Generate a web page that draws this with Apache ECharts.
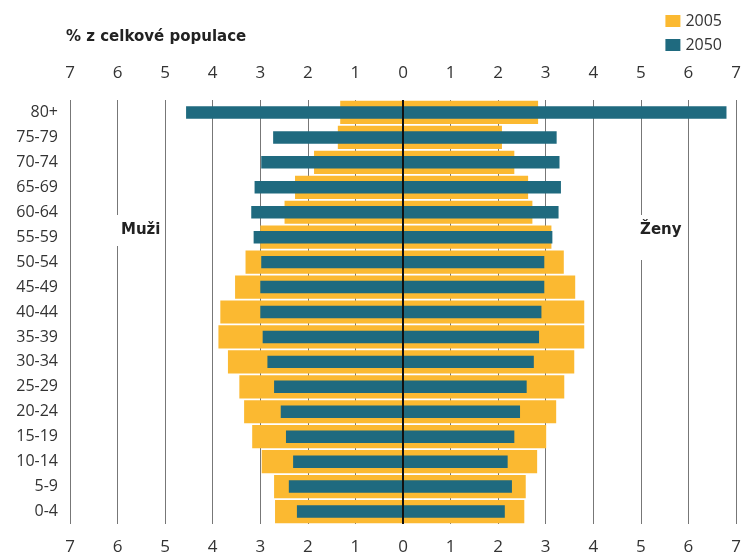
<!DOCTYPE html>
<html><head><meta charset="utf-8">
<script src="https://cdn.jsdelivr.net/npm/echarts@6/dist/echarts.min.js"></script>
<style>html,body{margin:0;padding:0;background:#fff}#c{width:744px;height:559px}</style>
</head><body><div id="c"></div>
<script>
const categories = ['80+','75-79','70-74','65-69','60-64','55-59','50-54','45-49','40-44','35-39','30-34','25-29','20-24','15-19','10-14','5-9','0-4'];
const men2005   = [1.32,1.37,1.87,2.27,2.49,3.00,3.31,3.53,3.84,3.88,3.68,3.44,3.34,3.17,2.97,2.71,2.69];
const women2005 = [2.84,2.08,2.34,2.63,2.72,3.12,3.38,3.62,3.81,3.81,3.60,3.39,3.22,3.01,2.82,2.58,2.55];
const men2050   = [4.56,2.73,2.98,3.12,3.19,3.14,2.98,3.00,3.00,2.95,2.85,2.71,2.57,2.46,2.31,2.40,2.23];
const women2050 = [6.80,3.23,3.29,3.32,3.27,3.14,2.97,2.97,2.91,2.86,2.75,2.60,2.46,2.34,2.20,2.29,2.14];
const tickLabels = [-7,-6,-5,-4,-3,-2,-1,0,1,2,3,4,5,6,7];

const YEL = '#FBB931', TEAL = '#1F6A7F';
const FONT = 'Open Sans';
const chart = echarts.init(document.getElementById('c'));
const xBase = {
  type: 'value', min: tickLabels[0], max: tickLabels[tickLabels.length-1], interval: 1,
  axisLine: {show:false}, axisTick: {show:false},
  axisLabel: {formatter: v => String(Math.abs(v)), fontSize: 17, color: '#333', fontFamily: FONT}
};
chart.setOption({
  animation: false,
  grid: {left: 70, right: 8, top: 100, bottom: 35},
  title: {text: '% z celkové populace', left: 61, top: 25,
    textStyle: {fontSize: 15, fontWeight: 'bold', color: '#222', fontFamily: 'DejaVu Sans'}},
  legend: {data: ['2005','2050'], orient: 'vertical', right: 17, top: 7, icon: 'rect',
    itemWidth: 15, itemHeight: 12, itemGap: 6,
    textStyle: {fontSize: 16, lineHeight: 18, color: '#333', fontFamily: FONT}},
  xAxis: [
    Object.assign({}, xBase, {position: 'top', axisLabel: Object.assign({}, xBase.axisLabel, {margin: 18}),
      splitLine: {show: true, lineStyle: {color: '#777', width: 1}}}),
    Object.assign({}, xBase, {position: 'bottom', axisLabel: Object.assign({}, xBase.axisLabel, {margin: 15}),
      splitLine: {show: false}})
  ],
  yAxis: [
    {type: 'category', data: categories, inverse: true,
     axisLine: {show:false}, axisTick: {show:false},
     axisLabel: {fontSize: 16, color: '#333', margin: 12, fontFamily: FONT}},
    {type: 'category', data: categories, inverse: true, show: false}
  ],
  graphic: [
    {type: 'text', left: 117, top: 215, z: 5, style: {text: 'Muži', fontSize: 15, fontWeight: 'bold', fill: '#222',
      fontFamily: 'DejaVu Sans', backgroundColor: '#fff', padding: [8, 4]}},
    {type: 'text', left: 634, top: 215, z: 5, style: {text: 'Ženy', fontSize: 15, fontWeight: 'bold', fill: '#222',
      fontFamily: 'DejaVu Sans', backgroundColor: '#fff', padding: [8, 6, 22, 6]}}
  ],
  series: [
    {name: '2005', type: 'bar', stack: 'a', yAxisIndex: 0, barWidth: '93%', itemStyle: {color: YEL},
     data: men2005.map(v => -v)},
    {name: '2005', type: 'bar', stack: 'a', yAxisIndex: 0, barWidth: '93%', itemStyle: {color: YEL},
     data: women2005},
    {name: '2050', type: 'bar', stack: 'b', yAxisIndex: 1, barWidth: '50%', itemStyle: {color: TEAL},
     data: men2050.map(v => -v)},
    {name: '2050', type: 'bar', stack: 'b', yAxisIndex: 1, barWidth: '50%', itemStyle: {color: TEAL},
     data: women2050,
     markLine: {silent: true, symbol: 'none', label: {show: false}, z: 10,
       lineStyle: {color: '#111', width: 2, type: 'solid'}, data: [{xAxis: 0}]}}
  ]
});
</script></body></html>
